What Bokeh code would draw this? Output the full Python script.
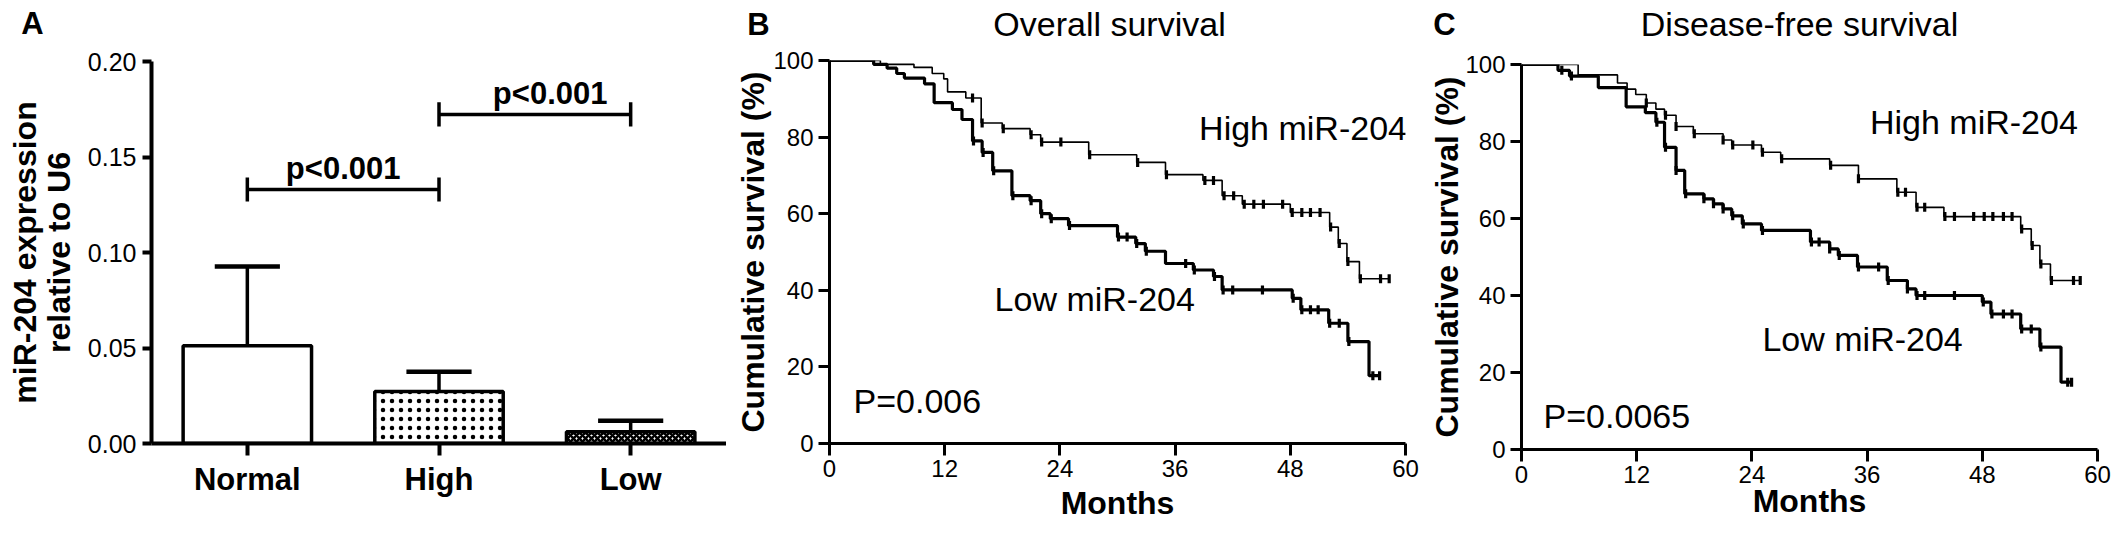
import numpy as np
from bokeh.plotting import figure
from bokeh.models import Range1d, FixedTicker, NumeralTickFormatter, Label
from bokeh.layouts import row, column
from bokeh.embed import file_html
from bokeh.resources import INLINE

FONT = "Liberation Sans"

# ---------------- Panel A data ----------------
groups = ["Normal", "High", "Low"]
expr_mean = [0.0512, 0.0272, 0.0061]
expr_sd = [0.0415, 0.0104, 0.0058]
group_hatch = [" ", "dot", "diagonal_cross"]
sig_pairs = [(0, 1), (1, 2)]
sig_height = [0.133, 0.1723]
sig_text = ["p<0.001", "p<0.001"]
a_yticks = [0.0, 0.05, 0.10, 0.15, 0.20]

# ---------------- Panel B data (overall survival) ----------------
os_high_t = [0, 5.3, 8.8, 10.7, 11.9, 12.3, 14.2, 15.8, 18.0, 20.9, 22.0, 27.0, 32.0,
             35.0, 38.9, 40.9, 43.0, 48.0, 52.1, 53.0, 53.9, 55.2]
os_high_s = [100, 99.0, 98.2, 96.6, 95.2, 91.8, 90.2, 83.7, 82.2, 80.6, 78.7, 75.4, 73.4,
             70.2, 68.7, 64.7, 62.5, 60.3, 56.5, 52.2, 47.5, 43.0]
os_high_cens = [14.9, 15.9, 18.1, 21.0, 22.1, 24.1, 27.1, 32.1, 35.1, 39.1, 40.0, 41.1, 42.1,
                43.2, 44.2, 45.2, 47.2, 48.2, 49.2, 50.1, 51.1, 52.2, 53.1, 54.0, 55.3,
                57.4, 58.3]
os_low_t = [0, 4.6, 6.0, 7.0, 7.8, 9.9, 10.9, 12.8, 13.8, 14.9, 15.9, 17.0, 19.0, 20.9,
            22.0, 23.0, 24.9, 30.0, 31.9, 32.9, 35.0, 37.9, 40.0, 40.9, 48.2, 49.1, 52.0,
            54.0, 56.2]
os_low_s = [100, 99.0, 98.0, 96.6, 95.4, 93.9, 89.0, 87.2, 84.6, 79.0, 76.0, 71.2, 64.7,
            63.4, 60.0, 58.7, 56.9, 53.9, 52.2, 50.2, 47.0, 45.3, 43.6, 40.1, 37.9, 34.9,
            31.4, 26.6, 17.7]
os_low_cens = [15.0, 16.0, 17.1, 19.1, 21.0, 22.1, 23.1, 25.0, 30.1, 31.0, 32.0, 33.0, 37.1,
               38.0, 40.1, 41.0, 42.0, 45.1, 48.3, 49.2, 50.1, 50.9, 52.1, 53.1, 54.1,
               56.6, 57.3]

# ---------------- Panel C data (disease-free survival) ----------------
dfs_high_t = [0, 5.9, 10.0, 11.0, 11.9, 13.0, 14.0, 14.9, 16.1, 17.9, 21.0, 21.9, 25.0,
              27.0, 32.1, 35.1, 39.1, 41.1, 44.0, 52.0, 53.1, 54.0, 55.1]
dfs_high_s = [100, 97.3, 95.2, 93.6, 92.2, 90.0, 88.4, 86.8, 83.9, 82.0, 80.4, 79.1, 77.2,
              75.5, 73.8, 70.3, 66.8, 62.9, 60.5, 57.3, 53.0, 48.2, 43.9]
dfs_high_cens = [13.0, 15.0, 16.1, 18.0, 21.0, 22.0, 24.1, 25.1, 27.1, 32.2, 35.1, 39.2,
                 40.0, 41.2, 42.0, 44.1, 45.1, 47.1, 48.2, 49.1, 50.2, 51.1, 52.1, 53.2,
                 54.1, 55.2, 57.5, 58.2]
dfs_low_t = [0, 3.8, 5.0, 8.0, 10.9, 12.9, 14.0, 14.9, 16.1, 17.0, 19.0, 20.0, 21.0, 21.9,
             23.0, 25.0, 30.1, 32.1, 33.0, 35.0, 38.1, 40.2, 41.1, 48.0, 48.9, 52.0, 54.0,
             56.2]
dfs_low_s = [100, 98.5, 97.0, 94.0, 89.0, 87.5, 85.0, 78.5, 72.5, 66.4, 65.1, 63.8, 62.5,
             60.7, 58.6, 56.9, 53.9, 52.1, 50.4, 47.4, 43.9, 41.7, 40.0, 38.3, 35.2, 31.3,
             26.6, 17.5]
dfs_low_cens = [4.2, 5.2, 14.1, 15.0, 16.1, 17.1, 19.0, 20.0, 21.0, 22.0, 23.1, 25.1, 30.2,
                31.0, 32.1, 33.1, 35.1, 37.2, 38.2, 40.2, 41.2, 42.0, 45.1, 48.1, 49.0,
                50.2, 51.1, 52.1, 53.1, 54.1, 56.9, 57.3]

km_xticks = [0, 12, 24, 36, 48, 60]
km_yticks = [0, 20, 40, 60, 80, 100]

panel_letters = ["A", "B", "C"]
panel_titles = ["", "Overall survival", "Disease-free survival"]

TOTAL_W = 2120
TOTAL_H = 530
HEAD_H = 45          # strip holding panel letters and titles
MAIN_H = TOTAL_H - HEAD_H
TOP = HEAD_H         # canvas y where the main figures start


def lab(p, x, y, text, size, bold=False, align="center", angle=0.0):
    p.add_layout(Label(x=x, y=y, text=text, angle=angle, text_align=align,
                       text_baseline="middle", text_font=FONT,
                       text_font_size=f"{size}px",
                       text_font_style="bold" if bold else "normal",
                       text_color="black"))


# header strip: ranges are canvas pixels (y grows downward)
head = figure(width=TOTAL_W, height=HEAD_H, x_range=Range1d(0, TOTAL_W),
              y_range=Range1d(HEAD_H, 0), x_axis_type=None, y_axis_type=None,
              output_backend="svg", toolbar_location=None,
              min_border_left=0, min_border_right=0, min_border_top=0,
              min_border_bottom=0)
head.outline_line_color = None
head.xgrid.grid_line_color = None
head.ygrid.grid_line_color = None
letter_pos = [(32, 23), (758, 24), (1444, 24)]
title_pos = [None, (1109, 23), (1799, 23)]
for letter, lp, title, tp in zip(panel_letters, letter_pos, panel_titles, title_pos):
    lab(head, lp[0], lp[1], letter, 31, bold=True)
    if title:
        lab(head, tp[0], tp[1], title, 34)


def style_axes(p, lw, tick_len, label_size, xstand, ystand):
    p.outline_line_color = None
    p.xgrid.grid_line_color = None
    p.ygrid.grid_line_color = None
    for ax in (p.xaxis[0], p.yaxis[0]):
        ax.axis_line_width = lw
        ax.axis_line_color = "black"
        ax.major_tick_line_width = lw
        ax.major_tick_line_color = "black"
        ax.major_tick_in = 0
        ax.major_tick_out = tick_len
        ax.minor_tick_line_color = None
        ax.major_label_text_font = FONT
        ax.major_label_text_color = "black"
        ax.major_label_text_font_size = f"{label_size}px"
        ax.axis_label_text_font = FONT
        ax.axis_label_text_font_style = "bold"
        ax.axis_label_text_font_size = "32px"
        ax.axis_label_text_color = "black"
    p.xaxis[0].major_label_standoff = xstand
    p.yaxis[0].major_label_standoff = ystand


# ================= Panel A =================
pa = figure(width=726, height=MAIN_H, x_range=Range1d(0, 3), y_range=Range1d(0, 0.2),
            output_backend="svg", toolbar_location=None,
            min_border_left=151, min_border_right=0, min_border_top=61 - TOP,
            min_border_bottom=TOTAL_H - 443)
style_axes(pa, 4, 11, 25, 6, 6)
xs = np.arange(len(groups)) + 0.5
pa.xaxis[0].ticker = FixedTicker(ticks=list(xs))
pa.xaxis[0].major_label_overrides = {float(x): g for x, g in zip(xs, groups)}
pa.xaxis[0].major_label_text_font_style = "bold"
pa.xaxis[0].major_label_text_font_size = "31px"
pa.xaxis[0].major_tick_out = 12
pa.yaxis[0].ticker = FixedTicker(ticks=a_yticks)
pa.yaxis[0].formatter = NumeralTickFormatter(format="0.00")
pa.yaxis[0].major_tick_out = 9
pa.yaxis[0].axis_label = "miR-204 expression\nrelative to U6"
pa.yaxis[0].axis_label_text_line_height = 0.95
pa.yaxis[0].axis_label_standoff = 8

means = np.array(expr_mean)
tops = means + np.array(expr_sd)
for i in range(len(groups)):
    dot = group_hatch[i] == "dot"
    pa.vbar(x=[xs[i]], top=[means[i]], bottom=0, width=0.67, fill_color="white",
            line_color="black", line_width=3.5, hatch_pattern=group_hatch[i],
            hatch_color="black", hatch_scale=9 if dot else 6,
            hatch_weight=1.4 if dot else 2.6)
pa.segment(x0=xs, y0=means, x1=xs, y1=tops, line_color="black", line_width=3.5)
pa.segment(x0=xs - 0.17, y0=tops, x1=xs + 0.17, y1=tops, line_color="black",
           line_width=4.5)

tick_h = 0.0063
for (a, b), h, txt in zip(sig_pairs, sig_height, sig_text):
    xa, xb = xs[a], xs[b]
    pa.segment(x0=[xa, xa, xb], y0=[h, h - tick_h, h - tick_h],
               x1=[xb, xa, xb], y1=[h, h + tick_h, h + tick_h],
               line_color="black", line_width=3.5)
    lab(pa, (xa + xb) / 2 + (0.08 if a == 1 else 0.0), h + 0.0112, txt, 31, bold=True)


# ================= KM panels =================
def km_panel(width, bl, br, frame_top, frame_bottom, ylab_standoff, xlab_standoff):
    p = figure(width=width, height=MAIN_H, x_range=Range1d(0, 60),
               y_range=Range1d(0, 100), output_backend="svg", toolbar_location=None,
               min_border_left=bl, min_border_right=br,
               min_border_top=frame_top - TOP,
               min_border_bottom=TOTAL_H - frame_bottom)
    style_axes(p, 3, 12, 24, 4, 5)
    p.yaxis[0].major_tick_out = 11
    p.xaxis[0].ticker = FixedTicker(ticks=km_xticks)
    p.yaxis[0].ticker = FixedTicker(ticks=km_yticks)
    p.yaxis[0].axis_label = "Cumulative survival (%)"
    p.yaxis[0].axis_label_standoff = ylab_standoff
    p.xaxis[0].axis_label = "Months"
    p.xaxis[0].axis_label_standoff = xlab_standoff
    return p


def km_curve(p, t, s, cens, lw):
    x = list(t) + [max(cens)]
    y = list(s) + [s[-1]]
    p.step(x=x, y=y, mode="after", line_color="black", line_width=lw)
    idx = np.searchsorted(np.array(t), np.array(cens), side="right") - 1
    cy = np.array(s)[idx]
    p.scatter(x=cens, y=cy, marker="dash", angle=np.pi / 2, size=9,
              line_color="black", line_width=3.2)


pb = km_panel(700, 103, 21, 60, 443, -1, 5)
km_curve(pb, os_high_t, os_high_s, os_high_cens, 1.6)
km_curve(pb, os_low_t, os_low_s, os_low_cens, 3.2)
lab(pb, 38.5, 82.5, "High miR-204", 34, align="left")
lab(pb, 17.2, 37.7, "Low miR-204", 34, align="left")
lab(pb, 2.5, 11.1, "P=0.006", 34, align="left")

pc = km_panel(694, 94, 23, 64, 449, -3, -3)
km_curve(pc, dfs_high_t, dfs_high_s, dfs_high_cens, 1.6)
km_curve(pc, dfs_low_t, dfs_low_s, dfs_low_cens, 3.2)
lab(pc, 36.3, 85.1, "High miR-204", 34, align="left")
lab(pc, 25.1, 28.7, "Low miR-204", 34, align="left")
lab(pc, 2.3, 8.7, "P=0.0065", 34, align="left")

layout = column(head, row(column(pa), column(pb), column(pc)))
open("out.html", "w").write(file_html(layout, INLINE))
